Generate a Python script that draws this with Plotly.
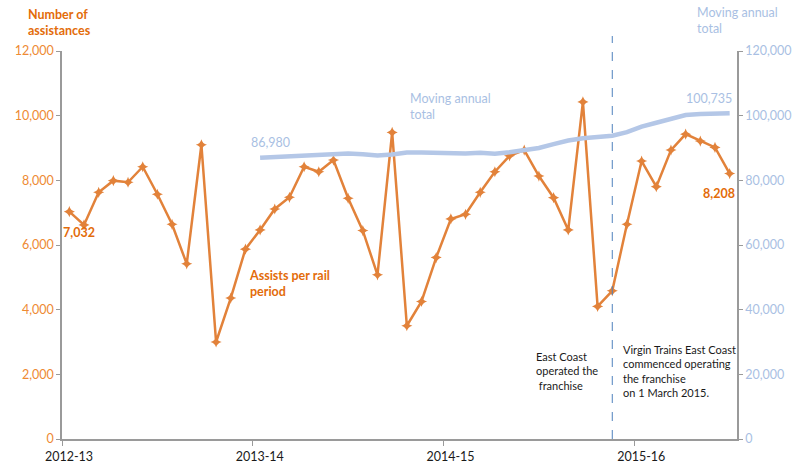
import plotly.graph_objects as go

# Assists per rail period, 2012-13 to 2015-16 (13 periods per year)
assists = [7032, 6620, 7630, 7990, 7940, 8420, 7570, 6640, 5417, 9100, 3000, 4357, 5870,
           6466, 7114, 7475, 8420, 8265, 8627, 7444, 6445, 5077, 9481, 3503, 4253, 5611,
           6806, 6950, 7629, 8265, 8759, 8935, 8133, 7463, 6466, 10426, 4099, 4583, 6642,
           8596, 7803, 8935, 9429, 9213, 9018, 8208]

# Moving annual total, available from period index 13 onwards
mat_start = 13
moving_total = [86980, 87200, 87450, 87700, 88000, 88300, 88300, 88100, 87700, 88000,
                88600, 88600, 88450, 88500, 88300, 88500, 88200, 88700, 89200, 90000,
                91200, 92300, 93000, 93500, 93800, 94900, 96600, 97800, 99000, 100200,
                100500, 100650, 100735]

years = ["2012-13", "2013-14", "2014-15", "2015-16"]
year_first_period = [0, 13, 26, 39]
franchise_change_period = 37

left_ticks = [0, 2000, 4000, 6000, 8000, 10000, 12000]
right_ticks = [0, 20000, 40000, 60000, 80000, 100000, 120000]

ORANGE = "#E2823A"
ORANGE_TXT = "#E36C0A"
ORANGE_TICK = "#EE8A33"
BLUE = "#B4C7E7"
BLUE_TXT = "#A9BFE3"
AXIS = "#9A9A9A"
FONT = "Lato"

W, H = 801, 465
L, R, T, B = 61.65, 737.4, 51.0, 439.5

def xp(px):
    return (px - L) / (R - L)

def yp(py):
    return (B - py) / (B - T)

x_all = list(range(len(assists)))
x_mat = list(range(mat_start, mat_start + len(moving_total)))

fig = go.Figure()
fig.add_trace(go.Scatter(
    x=x_mat, y=moving_total, yaxis="y2", mode="lines",
    line=dict(color=BLUE, width=4.5), hoverinfo="skip", showlegend=False))
fig.add_trace(go.Scatter(
    x=x_all, y=assists, mode="lines+markers",
    line=dict(color=ORANGE, width=2.5),
    marker=dict(symbol="star-diamond", size=8, color=ORANGE),
    showlegend=False))

# franchise change marker line
fig.add_shape(type="line", xref="x", yref="paper",
              x0=franchise_change_period, x1=franchise_change_period,
              y0=0, y1=yp(36), line=dict(color="#4F81BD", width=1, dash="dash"))

ann = []
def text(s, px, py, color, size=12, bold=False, anchor="left"):
    if bold:
        s = "<b>" + s.replace("<br>", "</b><br><b>") + "</b>"
    ann.append(dict(text=s, x=xp(px), y=yp(py), xref="paper", yref="paper",
                    xanchor=anchor, yanchor="middle", align="left",
                    showarrow=False, font=dict(family=FONT, size=size, color=color)))

text("Number of<br>assistances", 26, 22, ORANGE_TXT, 12.5, True)
text("Moving annual<br>total", 695, 20, BLUE_TXT, 12.5)
text("Moving annual<br>total", 408, 107, BLUE_TXT, 12.5)
text(f"{moving_total[0]:,}", 270, 143, BLUE_TXT, 12.5, anchor="center")
text(f"{moving_total[-1]:,}", 709, 99, BLUE_TXT, 12.5, anchor="center")
text(f"{assists[0]:,}", 79, 233, ORANGE_TXT, 12.5, True, anchor="center")
text(f"{assists[-1]:,}", 719, 194, ORANGE_TXT, 12.5, True, anchor="center")
text("Assists per rail<br>period", 247, 284, ORANGE_TXT, 12.5, True)
text("East Coast<br>operated the<br> franchise", 534, 371, "#1a1a1a", 11)
text("Virgin Trains East Coast<br>commenced operating<br>the franchise<br>on 1 March 2015.",
     621, 371, "#1a1a1a", 11)

fig.update_layout(
    width=W, height=H, autosize=False,
    margin=dict(l=L, r=W - R, t=T, b=H - B, pad=0, autoexpand=False),
    paper_bgcolor="white", plot_bgcolor="white",
    font=dict(family=FONT, size=12),
    annotations=ann,
    xaxis=dict(range=[-0.5, len(assists) - 0.5], automargin=False,
               tickvals=[v - 0.5 for v in year_first_period], ticktext=years,
               ticks="outside", ticklen=5, tickcolor=AXIS, ticklabelshift=7,
               showline=True, linecolor=AXIS, linewidth=1.5,
               showgrid=False, zeroline=False,
               tickfont=dict(family=FONT, size=12.5, color="#1a1a1a")),
    yaxis=dict(range=[0, 12000], tickvals=left_ticks, tickformat=",", automargin=False,
               ticks="outside", ticklen=4, tickcolor=AXIS,
               showline=True, linecolor=AXIS, linewidth=1.5,
               showgrid=False, zeroline=False,
               tickfont=dict(family=FONT, size=12.5, color=ORANGE_TICK)),
    yaxis2=dict(range=[0, 120000], tickvals=right_ticks, tickformat=",", automargin=False,
                overlaying="y", side="right",
                ticks="outside", ticklen=4, tickcolor=AXIS,
                showline=True, linecolor=AXIS, linewidth=1.5,
                showgrid=False, zeroline=False,
                tickfont=dict(family=FONT, size=12.5, color=BLUE_TXT)),
)

fig.write_html("out.html")
